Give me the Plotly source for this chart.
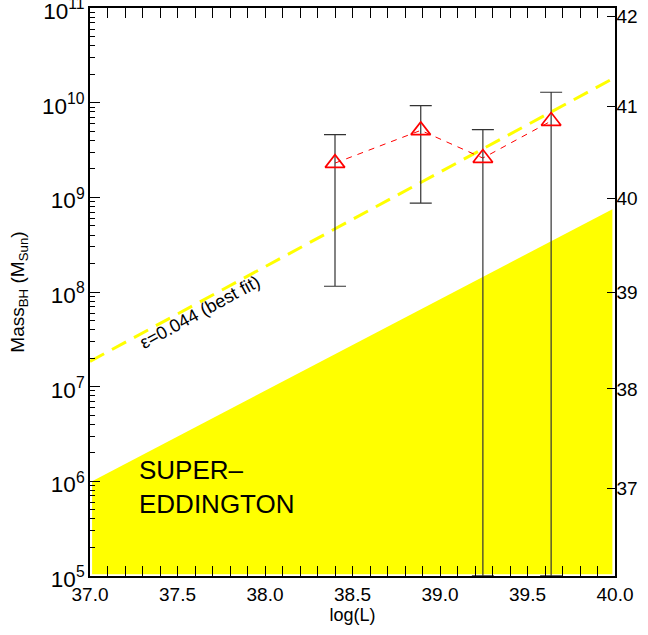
import numpy as np
import plotly.graph_objects as go

# data
logL = [38.40, 38.89, 39.245, 39.635]
mass = [2.3e9, 5.1e9, 2.6e9, 6.4e9]
mass_hi = [4.6e9, 9.3e9, 5.2e9, 1.29e10]
mass_lo = [1.15e8, 8.7e8, 1.0e5, 1.0e5]

fit_x = [37.0, 40.0]
fit_y = [1.85e7, 1.85e10]

fill_x = [37.012, 39.985, 39.985, 37.012]
fill_y = [1.04e5, 1.04e5, 7.5e8, 1.0e6]

y2_vals = [37, 38, 39, 40, 41, 42]

font = "Liberation Sans, Arial, sans-serif"

fig = go.Figure()
fig.add_trace(go.Scatter(x=fill_x, y=fill_y, fill="toself", fillcolor="#ffff00",
                         line=dict(width=0, color="#ffff00"), mode="lines",
                         hoverinfo="skip", showlegend=False))
fig.add_trace(go.Scatter(x=fit_x, y=fit_y, mode="lines",
                         line=dict(color="#ffff00", width=3, dash="16px,9px"),
                         showlegend=False))
err_plus = [h - m for h, m in zip(mass_hi, mass)]
err_minus = [m - l for m, l in zip(mass, mass_lo)]
fig.add_trace(go.Scatter(x=logL, y=mass, mode="lines",
                         line=dict(color="red", width=1, dash="6px,6px"),
                         showlegend=False))
fig.add_trace(go.Scatter(x=logL, y=mass, mode="markers",
                         marker=dict(symbol="triangle-up-open", size=17,
                                     color="red", line=dict(width=1.7, color="red")),
                         error_y=dict(type="data", symmetric=False, array=err_plus,
                                      arrayminus=err_minus, color="#333333",
                                      thickness=1.2, width=11),
                         showlegend=False))
# invisible trace for right axis
fig.add_trace(go.Scatter(x=[37.5], y=[39], yaxis="y2", mode="markers",
                         marker=dict(opacity=0), hoverinfo="skip", showlegend=False))

fig.add_annotation(x=37.629, y=7.79, xref="x", yref="y",
                   text="\u03b5=0.044 (best fit)", showarrow=False, textangle=-28.5,
                   font=dict(family=font, size=18, color="black"))
fig.add_annotation(x=37.27, y=5.58, xref="x", yref="y",
                   text="SUPER\u2013<br>EDDINGTON", showarrow=False, align="left",
                   xanchor="left", yanchor="bottom",
                   font=dict(family=font, size=26, color="black"))

fig.update_layout(
    width=648, height=635,
    margin=dict(l=90, r=33, t=8, b=59),
    plot_bgcolor="white", paper_bgcolor="white",
    font=dict(family=font, size=16, color="black"),
    xaxis=dict(range=[37, 40], dtick=0.5, tick0=37, tickformat=".1f",
               ticks="inside", ticklen=10, tickcolor="black", showline=True,
               linecolor="black", linewidth=1.5, mirror="allticks", showgrid=False,
               zeroline=False, automargin=False, ticklabeloverflow="allow",
               minor=dict(ticks="inside", ticklen=5, dtick=0.1, tickcolor="black"),
               title=dict(text="log(L)", standoff=4, font=dict(size=18)),
               tickfont=dict(size=19)),
    yaxis=dict(type="log", range=[4.9995, 11.0005], dtick=1, exponentformat="power",
               showexponent="all", ticklabeloverflow="allow", ticklabelshift=3,
               ticks="inside", ticklen=10, tickcolor="black", showline=True,
               linecolor="black", linewidth=1.5, mirror=False, showgrid=False,
               zeroline=False, automargin=False,
               minor=dict(ticks="inside", ticklen=5, dtick="D1", tickcolor="black",
                          showgrid=False),
               title=dict(text="Mass<sub>BH</sub> (M<sub>Sun</sub>)", standoff=12,
                          font=dict(size=19)),
               tickfont=dict(size=18)),
    yaxis2=dict(type="log", overlaying="y", side="right",
                range=[np.log10(36.136), np.log10(42.10)], tickvals=y2_vals,
                ticktext=[str(v) for v in y2_vals], automargin=False,
                ticklabeloverflow="allow",
                ticks="inside", ticklen=8, tickcolor="black", showline=True,
                linecolor="black", linewidth=1.5, showgrid=False, zeroline=False,
                ticklabelstandoff=-4, tickfont=dict(size=19)),
)
fig.write_html("out.html", config={"displayModeBar": False},
               post_script="document.body.style.margin='0px';")
